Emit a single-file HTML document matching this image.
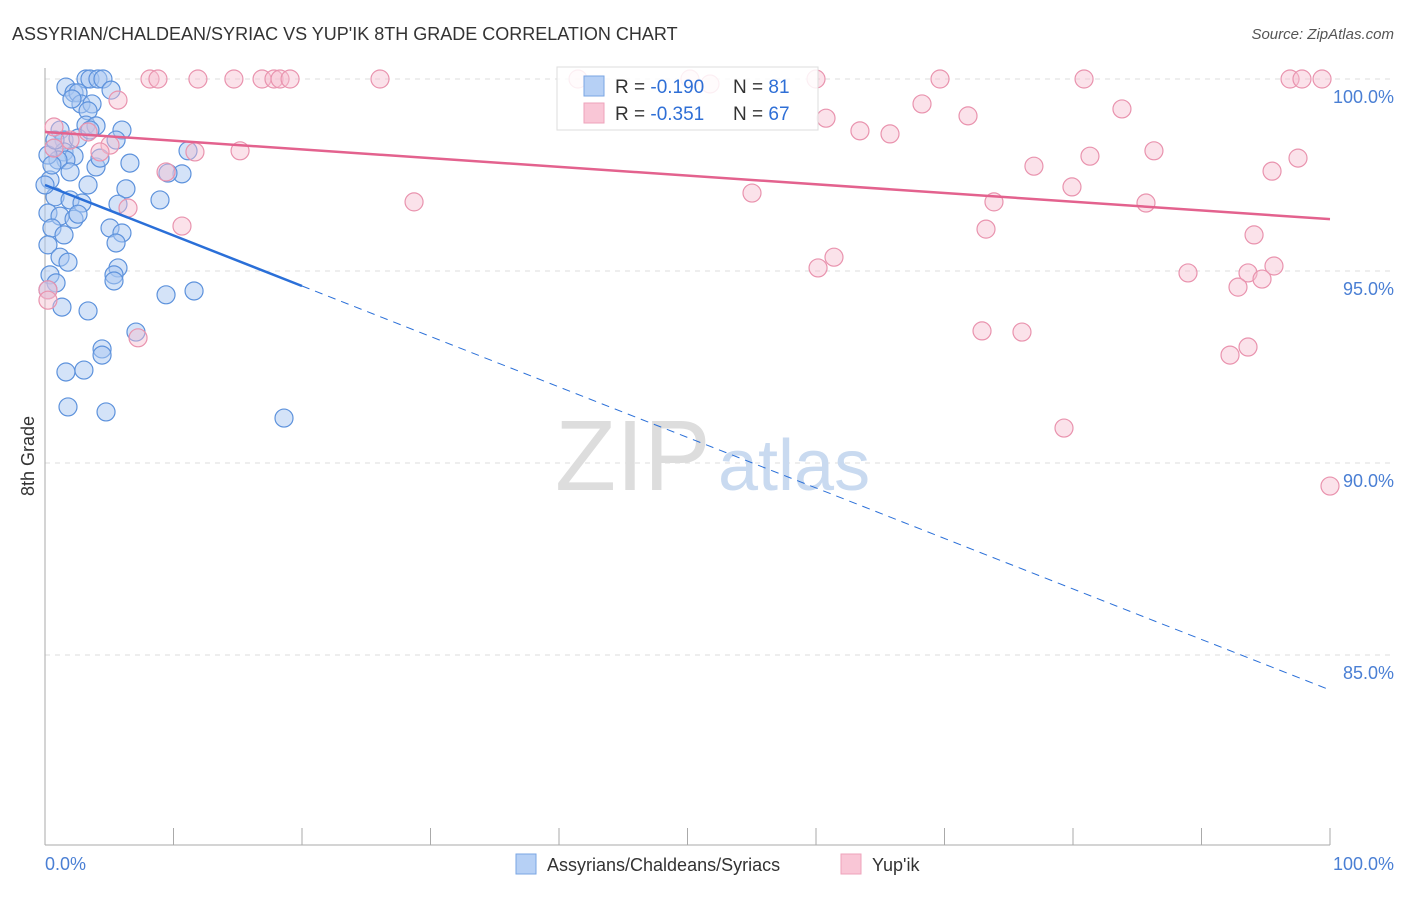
<!DOCTYPE html>
<html><head><meta charset="utf-8"><style>
body{margin:0;background:#fff;font-family:"Liberation Sans",sans-serif}
svg text{font-family:"Liberation Sans",sans-serif}
</style></head><body>
<svg width="1406" height="892" viewBox="0 0 1406 892">
<text x="12" y="40" font-size="18" fill="#333">ASSYRIAN/CHALDEAN/SYRIAC VS YUP'IK 8TH GRADE CORRELATION CHART</text>
<text x="1394" y="39" font-size="15" fill="#555" font-style="italic" text-anchor="end">Source: ZipAtlas.com</text>
<g id="grid"></g>
<text x="555" y="490" font-size="100" fill="#ddd" font-family="Liberation Serif">ZIP</text>
<text x="718" y="490" font-size="72" fill="#c9daf0">atlas</text>
<line x1="45" y1="68" x2="45" y2="845" stroke="#aaa"/>
<line x1="45" y1="845" x2="1330" y2="845" stroke="#aaa"/>
<text x="34" y="456" font-size="18" fill="#333" transform="rotate(-90 34 456)" text-anchor="middle">8th Grade</text>
<text x="45" y="870" font-size="18" fill="#4a7fd4">0.0%</text>
<text x="1394" y="870" font-size="18" fill="#4a7fd4" text-anchor="end">100.0%</text>
<g id="pts"></g>
<g id="trends"></g>
<g>
<rect x="557" y="67" width="261" height="63" fill="#fff" fill-opacity="0.85" stroke="#ddd"/>
<rect x="584" y="76" width="20" height="20" fill="#b6d0f5" stroke="#7aa6e3"/>
<rect x="584" y="103" width="20" height="20" fill="#f9c6d6" stroke="#eea3bb"/>
<text x="615" y="93" font-size="19" fill="#333">R = <tspan fill="#2f6fd6">-0.190</tspan></text>
<text x="733" y="93" font-size="19" fill="#333">N = <tspan fill="#2f6fd6"> 81</tspan></text>
<text x="615" y="120" font-size="19" fill="#333">R = <tspan fill="#2f6fd6">-0.351</tspan></text>
<text x="733" y="120" font-size="19" fill="#333">N = <tspan fill="#2f6fd6">67</tspan></text>
</g>
<rect x="516" y="854" width="20" height="20" fill="#b6d0f5" stroke="#7aa6e3"/>
<text x="547" y="871" font-size="18" fill="#333">Assyrians/Chaldeans/Syriacs</text>
<rect x="841" y="854" width="20" height="20" fill="#f9c6d6" stroke="#eea3bb"/>
<text x="872" y="871" font-size="18" fill="#333">Yup'ik</text>
</svg>
<script>
const yTicks=[100,95,90,85];
const xTicks=[0,10,20,30,40,50,60,70,80,90,100];
const blueX=[1.63,3.19,3.5,4.12,4.51,2.26,2.57,5.14,2.8,3.66,2.1,3.35,1.17,3.19,3.97,5.99,1.48,2.57,0.7,1.48,2.26,1.63,1.01,6.61,1.95,3.97,3.35,6.3,0.39,8.95,0.78,1.95,2.88,0.23,1.17,2.26,2.57,5.68,0.54,1.48,5.06,5.99,5.53,0.23,1.17,1.79,5.68,5.37,5.37,0.39,0.86,0.23,9.42,11.6,1.32,3.35,7.08,4.44,4.44,3.03,1.63,1.79,4.75,18.6,10.66,9.57,11.13,5.53,3.5,0.23,0.54,0,4.28,0.78];
const blueY=[99.79,100,100,100,100,99.64,99.64,99.71,99.35,99.35,99.48,99.17,98.67,98.8,98.78,98.67,98.41,98.46,98.2,98.1,97.99,97.89,97.89,97.81,97.58,97.71,97.24,97.14,97.37,96.85,96.93,96.85,96.77,96.51,96.43,96.35,96.48,96.74,96.12,95.94,96.12,95.99,95.73,95.68,95.36,95.23,95.08,94.9,94.74,94.9,94.69,94.51,94.38,94.48,94.06,93.96,93.41,92.97,92.81,92.42,92.37,91.46,91.33,91.17,97.53,97.55,98.13,98.41,98.67,98.02,97.76,97.24,97.94,98.41];
const pinkX=[0.7,1.95,3.35,5.06,4.28,0.7,5.68,8.17,8.79,11.9,14.7,16.89,17.82,18.29,19.07,26.07,11.67,15.18,9.42,10.66,6.46,28.72,7.24,0.23,0.23,41.48,50.19,60.0,69.65,80.86,96.89,97.82,99.38,68.25,60.78,63.42,65.76,71.83,83.81,76.96,81.32,86.3,55.02,73.85,79.92,85.68,95.49,97.51,73.23,94.09,60.16,61.4,88.95,93.62,95.64,92.84,94.71,72.92,76.03,92.22,93.62,79.3,100,51.75];
const pinkY=[98.75,98.41,98.62,98.28,98.1,98.2,99.45,100,100,100,100,100,100,100,100,100,98.1,98.13,97.58,96.17,96.64,96.8,93.26,94.51,94.24,100,100,100,100,100,100,100,100,99.35,98.98,98.65,98.57,99.04,99.22,97.73,97.99,98.13,97.03,96.8,97.19,96.77,97.6,97.94,96.09,95.94,95.08,95.36,94.95,94.95,95.13,94.58,94.79,93.44,93.41,92.81,93.02,90.91,89.4,99.87];
const blueTrend=[97.24,-0.1315];
const pinkTrend=[98.62,-0.0227];
const NS="http://www.w3.org/2000/svg";
const X=v=>45+v*12.85, Y=v=>79+(100-v)*38.4;
function mk(t,a,p){const e=document.createElementNS(NS,t);for(const k in a)e.setAttribute(k,a[k]);p.appendChild(e);return e;}
const grid=document.getElementById('grid');
yTicks.forEach(t=>{
 const l=mk('line',{x1:45,x2:1394,y1:Y(t),y2:Y(t),stroke:'#ddd','stroke-dasharray':'5,5'},grid);
 
 
 const tx=mk('text',{x:1394,y:Y(t)+24,'font-size':18,fill:'#4a7fd4','text-anchor':'end'},grid);
 tx.textContent=t.toFixed(1)+'%';
 
 
});
xTicks.forEach(t=>{
 const l=mk('line',{x1:X(t),x2:X(t),y1:828,y2:845,stroke:'#aaa'},grid);
 
 
});
const pts=document.getElementById('pts');
blueX.forEach((x,i)=>{
 const c=mk('circle',{cx:X(x),cy:Y(blueY[i]),r:9,fill:'#a9c8f2','fill-opacity':0.5,stroke:'#5d92dc','stroke-width':1.2},pts);
 
 
});
pinkX.forEach((x,i)=>{
 const c=mk('circle',{cx:X(x),cy:Y(pinkY[i]),r:9,fill:'#f7bfd0','fill-opacity':0.45,stroke:'#e993ae','stroke-width':1.2},pts);
 
 
});
const tr=document.getElementById('trends');
const bt=v=>blueTrend[0]+blueTrend[1]*v, pt=v=>pinkTrend[0]+pinkTrend[1]*v;
let l1=mk('line',{x1:X(0),y1:Y(bt(0)),x2:X(20),y2:Y(bt(20)),stroke:'#2a6fd8','stroke-width':2.5},tr);


let l2=mk('line',{x1:X(20),y1:Y(bt(20)),x2:X(100),y2:Y(bt(100)),stroke:'#2a6fd8','stroke-width':1,'stroke-dasharray':'8,6'},tr);


let l3=mk('line',{x1:X(0),y1:Y(pt(0)),x2:X(100),y2:Y(pt(100)),stroke:'#e3628e','stroke-width':2.5},tr);


</script>
</body></html>
